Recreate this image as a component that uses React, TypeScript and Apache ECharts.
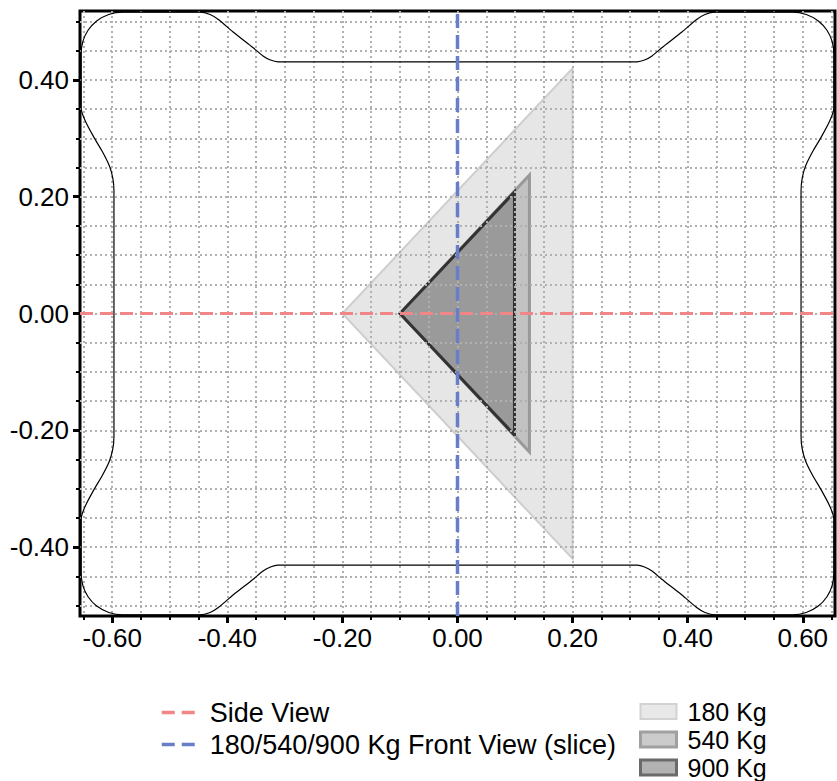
import React, { useEffect, useRef } from 'react';
import * as echarts from 'echarts';

// Axis extents
const X_MIN = -0.656;
const X_MAX = 0.656;
const Y_MIN = -0.518;
const Y_MAX = 0.518;

// Tick labels / ticks
const xMajorTicks = [-0.6, -0.4, -0.2, 0, 0.2, 0.4, 0.6];
const yMajorTicks = [-0.4, -0.2, 0, 0.2, 0.4];
const xMinorTicks = [-0.65, -0.6, -0.55, -0.5, -0.45, -0.4, -0.35, -0.3, -0.25, -0.2, -0.15, -0.1, -0.05, 0, 0.05, 0.1, 0.15, 0.2, 0.25, 0.3, 0.35, 0.4, 0.45, 0.5, 0.55, 0.6, 0.65];
const yMinorTicks = [-0.5, -0.45, -0.4, -0.35, -0.3, -0.25, -0.2, -0.15, -0.1, -0.05, 0, 0.05, 0.1, 0.15, 0.2, 0.25, 0.3, 0.35, 0.4, 0.45, 0.5];

// Reference lines
const sideView = [[-0.656, 0], [0.656, 0]];
const frontView = [[0, -0.518], [0, 0.518]];

// Load footprints (triangles)
const tri180 = [[-0.2, 0], [0.2, 0.42], [0.2, -0.42]];
const tri540 = [[-0.1, 0], [0.125, 0.237], [0.125, -0.237]];
const tri900 = [[-0.1, 0], [0.099, 0.208], [0.099, -0.208]];

// Platform outline, top-right quarter (from top centre clockwise to right centre); the shape is symmetric
const outlineQuarter = [
  [0, 0.431], [0.29, 0.431], [0.312, 0.431], [0.325, 0.434], [0.338, 0.441], [0.355, 0.455],
  [0.39, 0.482], [0.415, 0.503], [0.43, 0.512], [0.448, 0.516], [0.582, 0.516], [0.606, 0.512],
  [0.627, 0.501], [0.642, 0.485], [0.651, 0.466], [0.654, 0.444], [0.654, 0.352], [0.647, 0.33],
  [0.632, 0.302], [0.617, 0.277], [0.605, 0.253], [0.599, 0.232], [0.597, 0.21], [0.597, 0],
];

const FONT = 'Liberation Sans, Arial, Helvetica, sans-serif';

function buildOutline() {
  const q = outlineQuarter;
  const rev = [...q].reverse();
  return [
    ...q,
    ...rev.map(([x, y]) => [x, -y]),
    ...q.map(([x, y]) => [-x, -y]),
    ...rev.map(([x, y]) => [-x, y]),
  ];
}

function triSeries(
  name: string, pts: number[][], fill: string, stroke: string, lw: number, z: number,
  legendFill: string, legendStroke: string, legendLw: number,
) {
  return {
    type: 'custom',
    name,
    coordinateSystem: 'cartesian2d',
    z,
    silent: true,
    data: pts,
    encode: { x: 0, y: 1 },
    itemStyle: { color: legendFill, borderColor: legendStroke, borderWidth: legendLw },
    renderItem: (params: any, api: any) => {
      if (params.dataIndex !== 0) return null;
      const points = pts.map((p) => api.coord(p));
      return {
        type: 'polygon',
        shape: { points },
        style: { fill, stroke, lineWidth: lw, lineJoin: 'miter' },
      };
    },
  };
}

export default function App() {
  const ref = useRef<HTMLDivElement>(null);
  useEffect(() => {
    if (!ref.current) return;
    const chart = echarts.init(ref.current, null, { renderer: 'svg' });
    const fmt = (v: number) => v.toFixed(2);
    const labelStyle = { formatter: fmt, fontSize: 26, color: '#000', fontFamily: FONT };
    const option: any = {
      animation: false,
      backgroundColor: '#fff',
      grid: {
        left: 80, right: 2, top: 11, bottom: 165,
        show: true, borderColor: '#000', borderWidth: 3, backgroundColor: 'transparent',
      },
      xAxis: [
        {
          type: 'value', min: X_MIN, max: X_MAX, position: 'bottom',
          axisLine: { show: false, onZero: false },
          axisTick: { show: true, customValues: xMinorTicks, length: 4, lineStyle: { color: '#000', width: 2 } },
          axisLabel: { ...labelStyle, customValues: xMajorTicks, margin: 9 },
          splitLine: { show: true, lineStyle: { color: '#b0b0b0', width: 2, type: [2, 3] } },
        },
        {
          type: 'value', min: X_MIN, max: X_MAX, position: 'bottom', offset: 0,
          axisLine: { show: false, onZero: false },
          axisTick: { show: true, customValues: xMajorTicks, length: 7, lineStyle: { color: '#000', width: 3 } },
          axisLabel: { show: false },
          splitLine: { show: false },
        },
      ],
      yAxis: [
        {
          type: 'value', min: Y_MIN, max: Y_MAX, position: 'left',
          axisLine: { show: false, onZero: false },
          axisTick: { show: true, customValues: yMinorTicks, length: 4, lineStyle: { color: '#000', width: 2 } },
          axisLabel: { ...labelStyle, customValues: yMajorTicks, margin: 11 },
          splitLine: { show: true, lineStyle: { color: '#b0b0b0', width: 2, type: [2, 3] } },
        },
        {
          type: 'value', min: Y_MIN, max: Y_MAX, position: 'left', offset: 0,
          axisLine: { show: false, onZero: false },
          axisTick: { show: true, customValues: yMajorTicks, length: 7, lineStyle: { color: '#000', width: 3 } },
          axisLabel: { show: false },
          splitLine: { show: false },
        },
      ],
      legend: [
        {
          orient: 'vertical', left: 160, top: 699, padding: 0, height: 90,
          itemWidth: 33, itemHeight: 14, itemGap: 5,
          selectedMode: false,
          itemStyle: { opacity: 0, borderWidth: 0 },
          lineStyle: { width: 3.5, type: [13, 7] },
          data: ['Side View', '180/540/900 Kg Front View (slice)'],
          textStyle: { fontSize: 27, fontFamily: FONT, color: '#000', padding: [0, 0, 0, 10] },
        },
        {
          orient: 'vertical', left: 639, top: 699, padding: 0, height: 90,
          itemWidth: 36, itemHeight: 15, itemGap: 3,
          selectedMode: false,
          data: [
            { name: '180 Kg', icon: 'rect', itemStyle: { color: '#e8e8e8', borderColor: '#d2d2d2', borderWidth: 2 } },
            { name: '540 Kg', icon: 'rect', itemStyle: { color: '#cbcbcb', borderColor: '#a0a0a0', borderWidth: 3 } },
            { name: '900 Kg', icon: 'rect', itemStyle: { color: '#b2b2b2', borderColor: '#6a6a6a', borderWidth: 3 } },
          ],
          textStyle: { fontSize: 25, fontFamily: FONT, color: '#000', padding: [0, 0, 0, 6] },
        },
      ],
      series: [
        {
          type: 'line', name: 'Outline', data: buildOutline(), symbol: 'none', smooth: 0.25,
          lineStyle: { color: '#000', width: 1.2 }, silent: true, z: 1,
        },
        triSeries('180 Kg', tri180, '#e6e6e6', '#cecece', 2, -3, '#e8e8e8', '#d2d2d2', 2),
        triSeries('540 Kg', tri540, '#c2c2c2', '#999999', 3, -2, '#cbcbcb', '#a0a0a0', 3),
        triSeries('900 Kg', tri900, '#9a9a9a', '#333333', 3, -1, '#b2b2b2', '#6a6a6a', 3),
        {
          type: 'line', name: 'Side View', data: sideView, symbol: 'none', z: 4,
          lineStyle: { color: '#f28585', width: 3, type: [13, 7] }, itemStyle: { color: '#f28585' }, silent: true,
        },
        {
          type: 'line', name: '180/540/900 Kg Front View (slice)', data: frontView, symbol: 'none', z: 5,
          lineStyle: { color: '#6a7dc8', width: 3.5, type: [14, 7] }, itemStyle: { color: '#6a7dc8' }, silent: true,
        },
      ],
    };
    chart.setOption(option);
    return () => chart.dispose();
  }, []);
  return <div ref={ref} style={{ position: 'fixed', left: 0, top: 0, width: 837, height: 781 }} />;
}
